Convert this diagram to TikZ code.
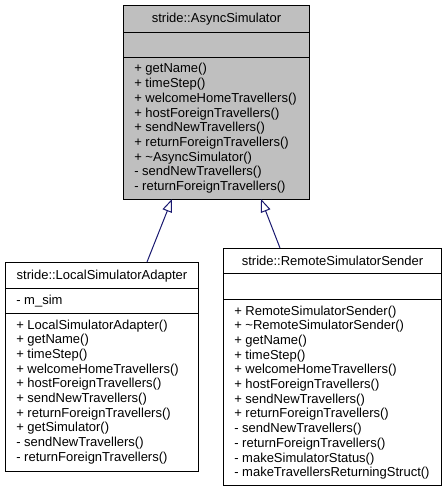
\documentclass[tikz,border=0pt]{standalone}
\usepackage{fontspec}
\setmainfont{Liberation Sans}
\usetikzlibrary{arrows.meta}
\definecolor{boxgrey}{HTML}{BFBFBF}
\definecolor{edgeblue}{HTML}{191970}
\begin{document}
\begin{tikzpicture}[x=0.75pt,y=-0.75pt,
  every node/.style={font=\fontsize{9.75}{11}\selectfont},
  part/.style={draw=black, line width=0.75pt, rectangle, inner sep=0pt, anchor=north west},
  ln/.style={anchor=west, inner sep=0pt, text height=7pt, text depth=1pt},
  ttl/.style={anchor=center, inner sep=0pt, text height=7pt, text depth=1pt},
  inherit/.style={draw=edgeblue, line width=0.75pt, -{Triangle[open, length=9.75pt, width=7.5pt]}}]
\useasboundingbox (0,0) rectangle (447,492);

% --- stride::AsyncSimulator
\node[part, fill=boxgrey, minimum width=139.5pt, minimum height=20.25pt] (topT) at (123,5) {};
\node[part, fill=boxgrey, minimum width=139.5pt, minimum height=18.75pt] (topA) at (123,32) {};
\node[part, fill=boxgrey, minimum width=139.5pt, minimum height=106.5pt] (topM) at (123,57) {};
\node[ttl] (topname) at (topT.center) {stride::AsyncSimulator};
\foreach \t [count=\i] in {+ getName(), + timeStep(), + welcomeHomeTravellers(),
  + hostForeignTravellers(), + sendNewTravellers(), + returnForeignTravellers(),
  + \textasciitilde AsyncSimulator(), - sendNewTravellers(), - returnForeignTravellers()}
  \node[ln] (topm\i) at (134,{69+(\i-1)*14.7}) {\t};

% --- stride::LocalSimulatorAdapter
\node[part, fill=white, minimum width=144.75pt, minimum height=19.5pt] (lT) at (5,262) {};
\node[part, fill=white, minimum width=144.75pt, minimum height=18.75pt] (lA) at (5,288) {};
\node[part, fill=white, minimum width=144.75pt, minimum height=118.5pt] (lM) at (5,313) {};
\node[ttl] (lname) at (lT.center) {stride::LocalSimulatorAdapter};
\node[ln] (lattr) at (16,300.5) {- m\_sim};
\foreach \t [count=\i] in {+ LocalSimulatorAdapter(), + getName(), + timeStep(),
  + welcomeHomeTravellers(), + hostForeignTravellers(), + sendNewTravellers(),
  + returnForeignTravellers(), + getSimulator(), - sendNewTravellers(),
  - returnForeignTravellers()}
  \node[ln] (lm\i) at (16,{325+(\i-1)*14.7}) {\t};

% --- stride::RemoteSimulatorSender
\node[part, fill=white, minimum width=163.5pt, minimum height=18.75pt] (rT) at (223,248) {};
\node[part, fill=white, minimum width=163.5pt, minimum height=19.5pt] (rA) at (223,273) {};
\node[part, fill=white, minimum width=163.5pt, minimum height=139.5pt] (rM) at (223,299) {};
\node[ttl] (rname) at (rT.center) {stride::RemoteSimulatorSender};
\foreach \t [count=\i] in {+ RemoteSimulatorSender(), + \textasciitilde RemoteSimulatorSender(),
  + getName(), + timeStep(), + welcomeHomeTravellers(), + hostForeignTravellers(),
  + sendNewTravellers(), + returnForeignTravellers(), - sendNewTravellers(),
  - returnForeignTravellers(), - makeSimulatorStatus(), - makeTravellersReturningStruct()}
  \node[ln] (rm\i) at (234,{311+(\i-1)*14.7}) {\t};

% --- inheritance connectors
\coordinate (lfoot) at (147,262);
\coordinate (lhead) at (172,199);
\coordinate (rfoot) at (280,248);
\coordinate (rhead) at (261,199);
\draw[inherit] (lfoot) -- (lhead);
\draw[inherit] (rfoot) -- (rhead);
\end{tikzpicture}
\end{document}
